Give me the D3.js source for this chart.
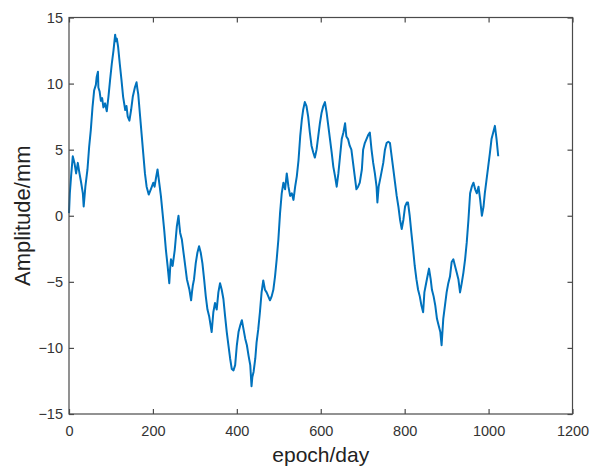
<!DOCTYPE html>
<html lang="en">
  <head>
    <meta charset="UTF-8" />
    <title>Amplitude</title>
    <style>
      body { margin: 0; background: #fff; }
      text { font-family: "Liberation Sans", Arial, sans-serif; }
    </style>
  </head>
  <body>
    <svg id="svg" width="590" height="468"></svg>

    <script src="https://cdn.jsdelivr.net/npm/d3@7"></script>
    <script>
      // values
      const days = [
        0, 2, 5, 9, 13, 17, 21, 25, 29, 33, 35, 39, 44, 48, 52, 56, 60, 64, 66, 69,
        70, 73, 76, 79, 82, 86, 90, 94, 98, 102, 106, 110, 112, 114, 117, 121, 125, 129, 134, 137,
        140, 144, 148, 152, 157, 161, 163, 165, 169, 173, 177, 181, 185, 190, 195, 201, 204, 207, 211, 215,
        219, 223, 227, 231, 235, 239, 241, 243, 247, 252, 257, 261, 263, 265, 269, 273, 277, 281, 287, 291,
        293, 295, 298, 302, 306, 310, 314, 318, 322, 326, 330, 334, 340, 344, 348, 352, 356, 360, 364, 368,
        372, 376, 380, 384, 388, 392, 396, 400, 404, 408, 412, 416, 420, 424, 428, 432, 435, 437, 440, 444,
        447, 451, 455, 459, 463, 467, 471, 475, 479, 483, 487, 491, 495, 499, 503, 507, 511, 515, 519, 523,
        527, 531, 535, 539, 543, 547, 551, 555, 558, 562, 566, 570, 574, 578, 582, 586, 590, 594, 598, 602,
        606, 610, 614, 618, 622, 626, 630, 634, 638, 642, 646, 650, 654, 658, 661, 665, 669, 673, 677, 681,
        685, 689, 693, 698, 701, 705, 709, 713, 717, 721, 725, 729, 733, 735, 738, 743, 749, 753, 757, 761,
        765, 769, 773, 777, 781, 785, 789, 793, 797, 801, 805, 808, 812, 816, 820, 824, 828, 832, 836, 840,
        844, 847, 850, 853, 858, 862, 865, 869, 873, 877, 881, 885, 888, 892, 896, 900, 904, 908, 912, 916,
        920, 924, 928, 932, 936, 940, 944, 948, 952, 956, 960, 964, 968, 972, 976, 980, 984, 988, 991, 995,
        999, 1003, 1007, 1011, 1015, 1019, 1023
      ];
      const amplitude = [
        0.2, 1.7, 3.0, 4.5, 4.0, 3.2, 4.0, 3.2, 2.5, 1.7, 0.7, 2.2, 3.5, 5.2, 6.5, 8.2, 9.5, 9.9, 10.5, 10.9,
        9.7, 9.4, 8.7, 8.9, 8.2, 8.5, 7.9, 9.0, 10.3, 11.5, 12.5, 13.7, 13.2, 13.4, 12.8, 11.5, 10.3, 9.0, 8.0, 8.3,
        7.5, 7.2, 8.0, 9.0, 9.7, 10.1, 9.6, 9.2, 7.7, 6.2, 4.7, 3.2, 2.2, 1.6, 2.0, 2.5, 2.2, 2.8, 3.5, 2.5,
        1.5, 0.2, -1.1, -2.6, -3.8, -5.1, -4.0, -3.3, -3.8, -2.6, -0.8, 0.0, -0.7, -1.3, -1.8, -2.8, -3.8, -4.8, -5.6, -6.4,
        -5.8, -5.3, -4.8, -3.6, -2.8, -2.3, -2.8, -3.6, -4.8, -6.1, -7.1, -7.6, -8.8, -7.3, -6.6, -7.1, -5.8, -5.1, -5.6, -6.3,
        -7.6, -8.8, -9.8, -10.8, -11.6, -11.7, -11.3, -9.8, -8.8, -8.3, -7.9, -8.6, -9.3, -9.8, -10.6, -11.3, -12.9, -12.2, -11.8, -10.8,
        -9.6, -8.6, -7.3, -5.8, -4.9, -5.6, -5.8, -6.1, -6.4, -6.1, -5.6, -4.6, -3.3, -1.8, 0.2, 1.7, 2.5, 2.0, 3.2, 2.2,
        1.5, 1.7, 1.2, 2.2, 3.0, 4.2, 6.0, 7.3, 8.0, 8.6, 8.3, 7.5, 6.3, 5.3, 4.8, 4.4, 5.0, 6.0, 7.0, 7.8,
        8.3, 8.6, 7.8, 6.8, 5.8, 4.8, 3.7, 3.0, 2.2, 3.2, 4.5, 5.8, 6.3, 7.0, 6.0, 5.8, 5.3, 5.0, 4.0, 3.0,
        2.0, 2.2, 2.5, 3.5, 5.0, 5.5, 5.8, 6.1, 6.3, 5.0, 4.0, 3.2, 2.2, 1.0, 2.2, 3.0, 4.0, 5.0, 5.5, 5.6,
        5.5, 4.5, 3.5, 2.5, 1.5, 0.7, -0.3, -1.0, -0.3, 0.7, 1.0, 1.0, 0.0, -1.3, -2.5, -3.8, -4.8, -5.6, -6.1, -6.8,
        -7.3, -5.8, -5.3, -4.8, -4.0, -4.8, -5.6, -6.1, -6.8, -7.8, -8.3, -8.8, -9.8, -7.8, -6.8, -5.8, -5.1, -4.6, -3.5, -3.3,
        -3.8, -4.3, -4.8, -5.8, -5.1, -4.3, -3.3, -2.0, -0.3, 1.7, 2.2, 2.5, 2.0, 1.7, 2.2, 1.2, 0.0, 0.7, 1.7, 2.7,
        3.7, 4.7, 5.8, 6.3, 6.8, 5.8, 4.5
      ];
      const xTicks = [0, 200, 400, 600, 800, 1000, 1200];
      const yTicks = [-15, -10, -5, 0, 5, 10, 15];

      const MARGIN = { top: 17.5, right: 17.5, bottom: 54, left: 69 };
      const WIDTH = 590 - (MARGIN.left + MARGIN.right);
      const HEIGHT = 468 - (MARGIN.top + MARGIN.bottom);
      const AXIS_COLOR = "#4a4a4a";
      const TEXT_COLOR = "#333";

      const data = days.map((d, i) => ({ day: d, amp: amplitude[i] }));

      const xScale = d3.scaleLinear().domain([0, 1200]).range([MARGIN.left, MARGIN.left + WIDTH]);
      const yScale = d3.scaleLinear().domain([-15, 15]).range([MARGIN.top + HEIGHT, MARGIN.top]);

      const svg = d3.select("#svg");

      const line = d3.line().x((d) => xScale(d.day)).y((d) => yScale(d.amp));
      svg.append("path")
        .datum(data)
        .attr("fill", "none")
        .attr("stroke", "#0072BD")
        .attr("stroke-width", 2)
        .attr("stroke-linejoin", "round")
        .attr("d", line);

      function styleAxis(g) {
        g.select(".domain").remove();
        g.selectAll(".tick line").attr("stroke", AXIS_COLOR).attr("stroke-width", 1.2);
        g.selectAll(".tick text")
          .attr("fill", TEXT_COLOR)
          .style("font-size", "14.5px")
          .style("font-family", '"Liberation Sans", Arial, sans-serif');
      }

      const fmt = d3.format("d");

      svg.append("g")
        .attr("transform", `translate(0, ${MARGIN.top + HEIGHT})`)
        .call(d3.axisBottom(xScale).tickValues(xTicks).tickFormat(fmt).tickSizeInner(-5).tickSizeOuter(0).tickPadding(12))
        .call(styleAxis);
      svg.append("g")
        .attr("transform", `translate(0, ${MARGIN.top})`)
        .call(d3.axisTop(xScale).tickValues(xTicks).tickSizeInner(-5).tickSizeOuter(0).tickFormat(""))
        .call(styleAxis);
      svg.append("g")
        .attr("transform", `translate(${MARGIN.left}, 0)`)
        .call(d3.axisLeft(yScale).tickValues(yTicks).tickFormat(fmt).tickSizeInner(-5).tickSizeOuter(0).tickPadding(6))
        .call(styleAxis);
      svg.append("g")
        .attr("transform", `translate(${MARGIN.left + WIDTH}, 0)`)
        .call(d3.axisRight(yScale).tickValues(yTicks).tickSizeInner(-5).tickSizeOuter(0).tickFormat(""))
        .call(styleAxis);

      // box
      svg.append("rect")
        .attr("x", MARGIN.left)
        .attr("y", MARGIN.top)
        .attr("width", WIDTH)
        .attr("height", HEIGHT)
        .attr("fill", "none")
        .attr("stroke", AXIS_COLOR)
        .attr("stroke-width", 1.2);

      svg.append("text")
        .attr("x", MARGIN.left + WIDTH / 2)
        .attr("y", 462)
        .attr("text-anchor", "middle")
        .attr("fill", "#222")
        .style("font-size", "21px")
        .text("epoch/day");

      svg.append("text")
        .attr("transform", `translate(30, ${MARGIN.top + HEIGHT / 2}) rotate(-90)`)
        .attr("text-anchor", "middle")
        .attr("fill", "#222")
        .style("font-size", "22px")
        .text("Amplitude/mm");
    </script>
  </body>
</html>
